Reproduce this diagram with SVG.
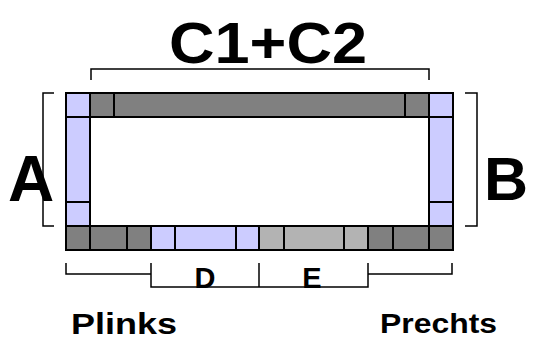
<svg xmlns="http://www.w3.org/2000/svg" width="534" height="344" viewBox="0 0 534 344">
<style>
.p{fill:#ccccff;stroke:#000;stroke-width:2}
.g{fill:#808080;stroke:#000;stroke-width:2}
.l{fill:#b3b3b3;stroke:#000;stroke-width:2}
.br{fill:none;stroke:#000;stroke-width:1.5}
text{font-family:"Liberation Sans",Arial,sans-serif;font-weight:bold;fill:#000}
</style>
<rect width="534" height="344" fill="#fff"/>
<g id="labels">
<text x="268" y="63" font-size="58" text-anchor="middle" textLength="198" lengthAdjust="spacingAndGlyphs">C1+C2</text>
<text x="8" y="201" font-size="64">A</text>
<text x="484" y="200" font-size="61">B</text>
<text x="71" y="334" font-size="30" textLength="106" lengthAdjust="spacingAndGlyphs">Plinks</text>
<text x="380" y="333" font-size="28" textLength="117" lengthAdjust="spacingAndGlyphs">Prechts</text>
<text x="205" y="288" font-size="29" text-anchor="middle">D</text>
<text x="312" y="288" font-size="29" text-anchor="middle">E</text>
</g>
<g id="top-bar">
<rect class="p" x="66" y="93" width="24" height="24"/>
<rect class="g" x="90" y="93" width="24" height="24"/>
<rect class="g" x="114" y="93" width="291" height="24"/>
<rect class="g" x="405" y="93" width="24" height="24"/>
<rect class="p" x="429" y="93" width="24" height="24"/>
</g>
<g id="left-column">
<rect class="p" x="66" y="117" width="24" height="85"/>
<rect class="p" x="66" y="202" width="24" height="24"/>
</g>
<g id="right-column">
<rect class="p" x="429" y="117" width="24" height="85"/>
<rect class="p" x="429" y="202" width="24" height="24"/>
</g>
<g id="bottom-bar">
<rect class="g" x="66" y="226" width="24" height="24"/>
<rect class="g" x="90" y="226" width="37" height="24"/>
<rect class="g" x="127" y="226" width="24" height="24"/>
<rect class="p" x="151" y="226" width="24" height="24"/>
<rect class="p" x="175" y="226" width="61" height="24"/>
<rect class="p" x="236" y="226" width="23" height="24"/>
<rect class="l" x="259" y="226" width="25" height="24"/>
<rect class="l" x="284" y="226" width="60" height="24"/>
<rect class="l" x="344" y="226" width="24" height="24"/>
<rect class="g" x="368" y="226" width="25" height="24"/>
<rect class="g" x="393" y="226" width="36" height="24"/>
<rect class="g" x="429" y="226" width="24" height="24"/>
</g>
<g id="connectors">
<path class="br" d="M91,80 V69 H429 V80"/>
<path class="br" d="M54,93 H43 V226 H54"/>
<path class="br" d="M465,93 H477 V226 H465"/>
<path class="br" d="M66,263 V274 H151"/>
<path class="br" d="M151,263 V287 H368 V263"/>
<path class="br" d="M259,263 V287"/>
<path class="br" d="M368,274 H452 V263"/>
</g>
</svg>
